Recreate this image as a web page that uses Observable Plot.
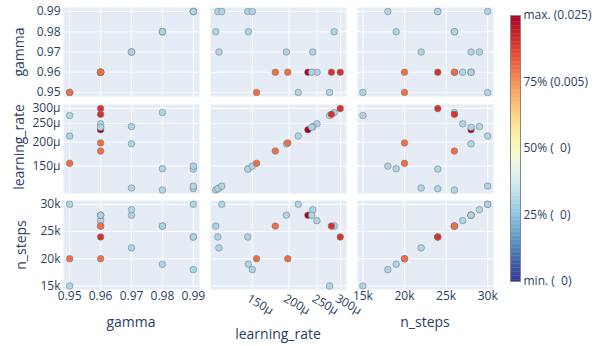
<!DOCTYPE html>
<html>
<head>
<meta charset="utf-8">
<script src="https://cdn.jsdelivr.net/npm/d3@7"></script>
<script src="https://cdn.jsdelivr.net/npm/@observablehq/plot@0.6"></script>
<style>
  html, body { margin: 0; padding: 0; background: #ffffff; }
  #chart { position: relative; width: 595px; height: 346px; overflow: hidden;
           font-family: "Open Sans", "DejaVu Sans", sans-serif; color: #2a3f5f; }
  #chart svg { position: absolute; overflow: visible; }
  .title { position: absolute; font-size: 14px; white-space: nowrap; transform: translate(-50%, -50%); }
  .title.rot { transform: translate(-50%, -50%) rotate(-90deg); }
  #chart svg text { white-space: pre; }
</style>
</head>
<body>
<div id="chart"></div>
<script>
// ---- data (one entry per trial, in drawing order) ----
const params = ["gamma", "learning_rate", "n_steps"];
const gamma = [0.95, 0.95, 0.96, 0.97, 0.97, 0.97, 0.98, 0.98, 0.98, 0.99, 0.99, 0.99, 0.99,
               0.96, 0.96, 0.96, 0.96, 0.95, 0.96, 0.96];
const learningRate = [215e-6, 275e-6, 249e-6, 115.4e-6, 196e-6, 241e-6, 112.6e-6, 145.4e-6, 285e-6,
                      114.4e-6, 118e-6, 144.7e-6, 150e-6,
                      279e-6, 299e-6, 232e-6, 239e-6, 155e-6, 179.6e-6, 198e-6];
const nSteps = [30000, 15000, 27000, 22000, 28000, 29000, 26000, 19000, 26000, 24000, 30000, 24000, 18000,
                26000, 24000, 28000, 28000, 20000, 26000, 20000];
const objective = [0, 0, 0, 0, 0, 0, 0, 0, 0, 0, 0, 0, 0,
                   0.015, 0.015, 0.025, 0, 0.005, 0.005, 0.005];

const gammaTicks = [0.95, 0.96, 0.97, 0.98, 0.99];
const lrTicks = [150e-6, 200e-6, 250e-6, 300e-6];
const nStepsTicks = [15000, 20000, 25000, 30000];
const cbPositions = [0, 0.25, 0.5, 0.75, 1];
const cbLabels = ["min. (  0)", "25% (  0)", "50% (  0)", "75% (0.005)", "max. (0.025)"];

const trials = gamma.map((g, i) => ({
  gamma: g, learning_rate: learningRate[i], n_steps: nSteps[i], value: objective[i]
}));

// ---- scales / layout ----
const scaleCfg = {
  gamma: {type: "linear", domain: [0.948, 0.992], ticks: gammaTicks, fmt: d => d.toFixed(2)},
  learning_rate: {type: "log", domain: [1.08e-4, 3.14e-4], ticks: lrTicks, fmt: d => Math.round(d * 1e6) + "μ"},
  n_steps: {type: "linear", domain: [14350, 30700], ticks: nStepsTicks, fmt: d => d / 1000 + "k"}
};
const colorDomain = [0, 0.005, 0.015, 0.025];
const colorRange = [d3.interpolateRdYlBu(0.7), d3.interpolateRdYlBu(0.2), d3.interpolateRdYlBu(0.1), d3.interpolateRdYlBu(0.0)];

const colLeft = [63, 210, 357], colW = 136;
const rowTop = [7, 103.5, 200], rowH = 89;
const chart = document.getElementById("chart");
const baseStyle = {fontFamily: "'Open Sans', 'DejaVu Sans', sans-serif", fontSize: "12px", color: "#2a3f5f", background: "none", overflow: "visible"};

for (let i = 0; i < 3; i++) {
  for (let j = 0; j < 3; j++) {
    const xp = params[j], yp = params[i];
    const xc = scaleCfg[xp], yc = scaleCfg[yp];
    const ml = j === 0 ? 63 : 0;
    const mb = i === 2 ? 60 : 0;
    const marks = [
      Plot.frame({fill: "#e5ecf6", stroke: "none"}),
      Plot.ruleX(xc.ticks, {x: d => d, stroke: "white", strokeWidth: 1}),
      Plot.ruleY(yc.ticks, {y: d => d, stroke: "white", strokeWidth: 1}),
      Plot.dot(trials, {x: xp, y: yp, fill: "value", r: 3.3, stroke: "#7f7f7f", strokeWidth: 0.6})
    ];
    if (j === 0) marks.push(Plot.text(yc.ticks, {y: d => d, frameAnchor: "left", dx: -3, textAnchor: "end",
                                                 text: yc.fmt, fontSize: 12, fill: "#2a3f5f"}));
    if (i === 2) {
      if (j === 1) {
        marks.push(Plot.text(xc.ticks, {x: d => d, frameAnchor: "bottom", dy: 4, dx: -2, textAnchor: "start",
                                        lineAnchor: "top", rotate: 30, text: xc.fmt, fontSize: 12, fill: "#2a3f5f"}));
      } else {
        marks.push(Plot.text(xc.ticks, {x: d => d, frameAnchor: "bottom", dy: 2, lineAnchor: "top",
                                        text: xc.fmt, fontSize: 12, fill: "#2a3f5f"}));
      }
    }
    const p = Plot.plot({
      width: colW + ml, height: rowH + mb,
      marginLeft: ml, marginRight: 0, marginTop: 0, marginBottom: mb,
      style: baseStyle,
      x: {type: xc.type, domain: xc.domain, axis: null},
      y: {type: yc.type, domain: yc.domain, axis: null},
      color: {type: "linear", domain: colorDomain, range: colorRange},
      marks
    });
    p.style.left = (colLeft[j] - ml) + "px";
    p.style.top = rowTop[i] + "px";
    chart.appendChild(p);
  }
}

// ---- colorbar ----
const stops = d3.range(0, 1, 0.005);
const cb = Plot.plot({
  width: 95, height: 300,
  marginLeft: 10, marginRight: 75, marginTop: 15, marginBottom: 19,
  style: baseStyle,
  x: {domain: [0, 1], axis: null},
  y: {domain: [0, 1], axis: null},
  color: {type: "identity"},
  marks: [
    Plot.rect(stops, {x1: 0, x2: 1, y1: d => d, y2: d => Math.min(1, d + 0.0065),
                      fill: d => d3.interpolateRdYlBu(1 - d - 0.0025)}),
    Plot.frame({stroke: "#888", strokeWidth: 1}),
    Plot.text(cbPositions, {y: d => d, frameAnchor: "right", dx: 3, textAnchor: "start",
                            text: d => cbLabels[cbPositions.indexOf(d)], fontSize: 12, fill: "#2a3f5f"})
  ]
});
cb.style.left = "500px";
cb.style.top = "0px";
chart.appendChild(cb);

// ---- axis titles ----
function title(text, x, y, rot) {
  const d = document.createElement("div");
  d.className = "title" + (rot ? " rot" : "");
  d.textContent = text;
  d.style.left = x + "px";
  d.style.top = y + "px";
  chart.appendChild(d);
}
title("gamma", 18, 52, true);
title("learning_rate", 18, 147, true);
title("n_steps", 20, 245, true);
title("gamma", 131, 321, false);
title("learning_rate", 278, 333, false);
title("n_steps", 425, 321, false);
</script>
</body>
</html>
